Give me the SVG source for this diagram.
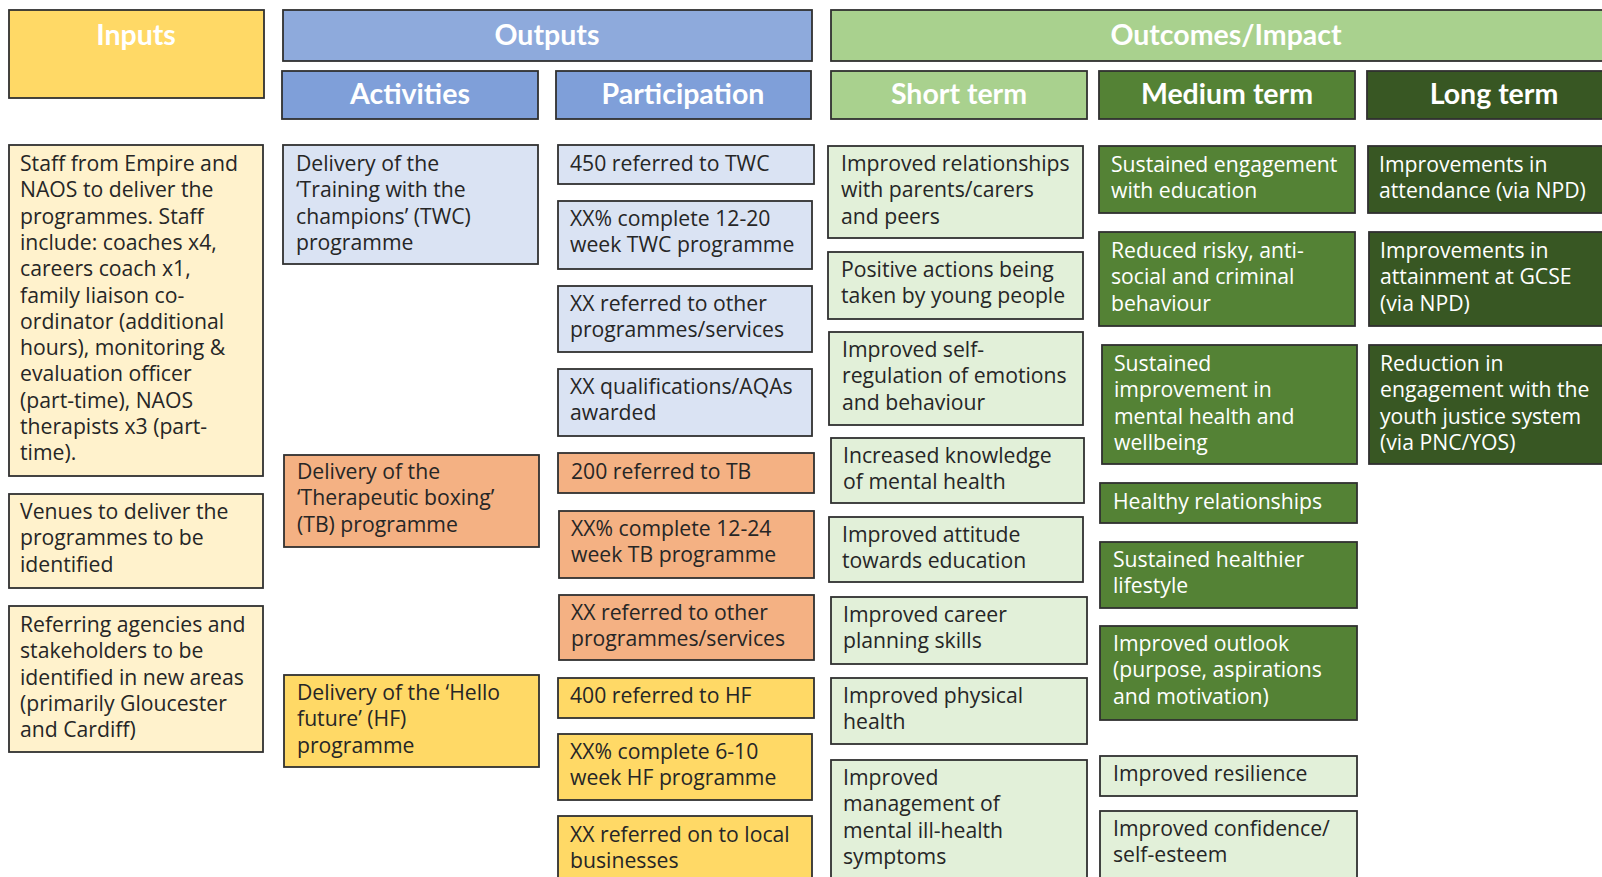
<svg xmlns="http://www.w3.org/2000/svg" width="1602" height="877" viewBox="0 0 1602 877">
<style>
rect{stroke:#303030;stroke-width:1.8}
.h{font-family:Lato,"Open Sans","Liberation Sans",sans-serif;font-weight:bold;font-size:28.5px;fill:#ffffff;text-anchor:middle}
.t{font-family:"Open Sans",Lato,"Liberation Sans",sans-serif;font-size:21.2px;fill:#262626}
.w{font-family:"Open Sans",Lato,"Liberation Sans",sans-serif;font-size:21.2px;fill:#ffffff}
.y1{fill:#FFD966}.y2{fill:#FFF2CC}.b1{fill:#8EAADC}.b2{fill:#7F9FD9}.b3{fill:#DAE3F3}.o{fill:#F4B183}
.g1{fill:#A9D18E}.g2{fill:#E2F0D9}.g3{fill:#548235}.g4{fill:#385723}
</style>
<rect width="1602" height="877" fill="#ffffff" style="stroke:none"/>
<!-- Headers -->
<g id="h-inputs"><rect class="y1" x="9" y="10" width="255" height="88"/><text class="h" x="136" y="45">Inputs</text></g>
<g id="h-outputs"><rect class="b1" x="283" y="10" width="529" height="51"/><text class="h" x="547" y="45">Outputs</text></g>
<g id="h-activities"><rect class="b2" x="282" y="71" width="256" height="48"/><text class="h" x="410" y="104">Activities</text></g>
<g id="h-participation"><rect class="b2" x="556" y="71" width="255" height="48"/><text class="h" x="683" y="104">Participation</text></g>
<g id="h-outcomes"><rect class="g1" x="831" y="10" width="790" height="51"/><text class="h" x="1226" y="45">Outcomes/Impact</text></g>
<g id="h-short"><rect class="g1" x="831" y="71" width="256" height="48"/><text class="h" x="959" y="104">Short term</text></g>
<g id="h-medium"><rect class="g3" x="1099" y="71" width="256" height="48"/><text class="h" x="1227" y="104">Medium term</text></g>
<g id="h-long"><rect class="g4" x="1367" y="71" width="260" height="48"/><text class="h" x="1494" y="104">Long term</text></g>

<!-- Inputs -->
<g id="in-staff"><rect class="y2" x="9" y="145" width="254" height="331"/>
<text class="t" x="20" y="171"><tspan x="20">Staff from Empire and</tspan><tspan x="20" dy="26.3">NAOS to deliver the</tspan><tspan x="20" dy="26.3">programmes. Staff</tspan><tspan x="20" dy="26.3">include: coaches x4,</tspan><tspan x="20" dy="26.3">careers coach x1,</tspan><tspan x="20" dy="26.3">family liaison co-</tspan><tspan x="20" dy="26.3">ordinator (additional</tspan><tspan x="20" dy="26.3">hours), monitoring &amp;</tspan><tspan x="20" dy="26.3">evaluation officer</tspan><tspan x="20" dy="26.3">(part-time), NAOS</tspan><tspan x="20" dy="26.3">therapists x3 (part-</tspan><tspan x="20" dy="26.3">time).</tspan></text></g>
<g id="in-venues"><rect class="y2" x="9" y="494" width="254" height="94"/>
<text class="t" x="20" y="519"><tspan x="20">Venues to deliver the</tspan><tspan x="20" dy="26.3">programmes to be</tspan><tspan x="20" dy="26.3">identified</tspan></text></g>
<g id="in-referring"><rect class="y2" x="9" y="606" width="254" height="146"/>
<text class="t" x="20" y="632"><tspan x="20">Referring agencies and</tspan><tspan x="20" dy="26.3">stakeholders to be</tspan><tspan x="20" dy="26.3">identified in new areas</tspan><tspan x="20" dy="26.3">(primarily Gloucester</tspan><tspan x="20" dy="26.3">and Cardiff)</tspan></text></g>

<!-- Activities -->
<g id="act-twc"><rect class="b3" x="283" y="145" width="255" height="119"/>
<text class="t" x="296" y="171"><tspan x="296">Delivery of the</tspan><tspan x="296" dy="26.3">‘Training with the</tspan><tspan x="296" dy="26.3">champions’ (TWC)</tspan><tspan x="296" dy="26.3">programme</tspan></text></g>
<g id="act-tb"><rect class="o" x="284" y="455" width="255" height="92"/>
<text class="t" x="297" y="479"><tspan x="297">Delivery of the</tspan><tspan x="297" dy="26.3">‘Therapeutic boxing’</tspan><tspan x="297" dy="26.3">(TB) programme</tspan></text></g>
<g id="act-hf"><rect class="y1" x="284" y="675" width="255" height="92"/>
<text class="t" x="297" y="700"><tspan x="297">Delivery of the ‘Hello</tspan><tspan x="297" dy="26.3">future’ (HF)</tspan><tspan x="297" dy="26.3">programme</tspan></text></g>

<!-- Participation -->
<g id="p-twc-ref"><rect class="b3" x="558" y="145" width="256" height="39"/><text class="t" x="570" y="171">450 referred to TWC</text></g>
<g id="p-twc-comp"><rect class="b3" x="558" y="201" width="254" height="68"/><text class="t" x="570" y="226"><tspan x="570">XX% complete 12-20</tspan><tspan x="570" dy="26.3">week TWC programme</tspan></text></g>
<g id="p-twc-other"><rect class="b3" x="558" y="286" width="254" height="66"/><text class="t" x="570" y="311"><tspan x="570">XX referred to other</tspan><tspan x="570" dy="26.3">programmes/services</tspan></text></g>
<g id="p-twc-qual"><rect class="b3" x="558" y="369" width="254" height="67"/><text class="t" x="570" y="394"><tspan x="570">XX qualifications/AQAs</tspan><tspan x="570" dy="26.3">awarded</tspan></text></g>
<g id="p-tb-ref"><rect class="o" x="558" y="453" width="256" height="40"/><text class="t" x="571" y="479">200 referred to TB</text></g>
<g id="p-tb-comp"><rect class="o" x="559" y="511" width="255" height="67"/><text class="t" x="571" y="536"><tspan x="571">XX% complete 12-24</tspan><tspan x="571" dy="26.3">week TB programme</tspan></text></g>
<g id="p-tb-other"><rect class="o" x="559" y="595" width="255" height="65"/><text class="t" x="571" y="620"><tspan x="571">XX referred to other</tspan><tspan x="571" dy="26.3">programmes/services</tspan></text></g>
<g id="p-hf-ref"><rect class="y1" x="558" y="678" width="256" height="40"/><text class="t" x="570" y="703">400 referred to HF</text></g>
<g id="p-hf-comp"><rect class="y1" x="558" y="734" width="254" height="66"/><text class="t" x="570" y="759"><tspan x="570">XX% complete 6-10</tspan><tspan x="570" dy="26.3">week HF programme</tspan></text></g>
<g id="p-hf-local"><rect class="y1" x="558" y="816" width="254" height="75"/><text class="t" x="570" y="842"><tspan x="570">XX referred on to local</tspan><tspan x="570" dy="26.3">businesses</tspan></text></g>

<!-- Short term -->
<g id="s-relationships"><rect class="g2" x="828" y="146" width="255" height="92"/><text class="t" x="841" y="171"><tspan x="841">Improved relationships</tspan><tspan x="841" dy="26.3">with parents/carers</tspan><tspan x="841" dy="26.3">and peers</tspan></text></g>
<g id="s-positive"><rect class="g2" x="828" y="252" width="255" height="67"/><text class="t" x="841" y="277"><tspan x="841">Positive actions being</tspan><tspan x="841" dy="26.3">taken by young people</tspan></text></g>
<g id="s-selfreg"><rect class="g2" x="829" y="332" width="254" height="93"/><text class="t" x="842" y="357"><tspan x="842">Improved self-</tspan><tspan x="842" dy="26.3">regulation of emotions</tspan><tspan x="842" dy="26.3">and behaviour</tspan></text></g>
<g id="s-knowledge"><rect class="g2" x="831" y="438" width="253" height="65"/><text class="t" x="843" y="463"><tspan x="843">Increased knowledge</tspan><tspan x="843" dy="26.3">of mental health</tspan></text></g>
<g id="s-attitude"><rect class="g2" x="829" y="517" width="254" height="65"/><text class="t" x="842" y="542"><tspan x="842">Improved attitude</tspan><tspan x="842" dy="26.3">towards education</tspan></text></g>
<g id="s-career"><rect class="g2" x="831" y="597" width="256" height="67"/><text class="t" x="843" y="622"><tspan x="843">Improved career</tspan><tspan x="843" dy="26.3">planning skills</tspan></text></g>
<g id="s-physical"><rect class="g2" x="831" y="678" width="256" height="66"/><text class="t" x="843" y="703"><tspan x="843">Improved physical</tspan><tspan x="843" dy="26.3">health</tspan></text></g>
<g id="s-management"><rect class="g2" x="831" y="760" width="256" height="130"/><text class="t" x="843" y="785"><tspan x="843">Improved</tspan><tspan x="843" dy="26.3">management of</tspan><tspan x="843" dy="26.3">mental ill-health</tspan><tspan x="843" dy="26.3">symptoms</tspan></text></g>

<!-- Medium term -->
<g id="m-engagement"><rect class="g3" x="1099" y="146" width="256" height="67"/><text class="w" x="1111" y="172"><tspan x="1111">Sustained engagement</tspan><tspan x="1111" dy="26.3">with education</tspan></text></g>
<g id="m-risky"><rect class="g3" x="1099" y="232" width="256" height="94"/><text class="w" x="1111" y="258"><tspan x="1111">Reduced risky, anti-</tspan><tspan x="1111" dy="26.3">social and criminal</tspan><tspan x="1111" dy="26.3">behaviour</tspan></text></g>
<g id="m-mental"><rect class="g3" x="1102" y="345" width="255" height="119"/><text class="w" x="1114" y="371"><tspan x="1114">Sustained</tspan><tspan x="1114" dy="26.3">improvement in</tspan><tspan x="1114" dy="26.3">mental health and</tspan><tspan x="1114" dy="26.3">wellbeing</tspan></text></g>
<g id="m-healthy"><rect class="g3" x="1100" y="483" width="257" height="40"/><text class="w" x="1113" y="509">Healthy relationships</text></g>
<g id="m-lifestyle"><rect class="g3" x="1100" y="542" width="257" height="66"/><text class="w" x="1113" y="567"><tspan x="1113">Sustained healthier</tspan><tspan x="1113" dy="26.3">lifestyle</tspan></text></g>
<g id="m-outlook"><rect class="g3" x="1100" y="626" width="257" height="94"/><text class="w" x="1113" y="651"><tspan x="1113">Improved outlook</tspan><tspan x="1113" dy="26.3">(purpose, aspirations</tspan><tspan x="1113" dy="26.3">and motivation)</tspan></text></g>
<g id="m-resilience"><rect class="g2" x="1100" y="756" width="257" height="40"/><text class="t" x="1113" y="781">Improved resilience</text></g>
<g id="m-confidence"><rect class="g2" x="1100" y="811" width="257" height="80"/><text class="t" x="1113" y="836"><tspan x="1113">Improved confidence/</tspan><tspan x="1113" dy="26.3">self-esteem</tspan></text></g>

<!-- Long term -->
<g id="l-attendance"><rect class="g4" x="1368" y="146" width="260" height="67"/><text class="w" x="1379" y="172"><tspan x="1379">Improvements in</tspan><tspan x="1379" dy="26.3">attendance (via NPD)</tspan></text></g>
<g id="l-attainment"><rect class="g4" x="1369" y="232" width="259" height="94"/><text class="w" x="1380" y="258"><tspan x="1380">Improvements in</tspan><tspan x="1380" dy="26.3">attainment at GCSE</tspan><tspan x="1380" dy="26.3">(via NPD)</tspan></text></g>
<g id="l-justice"><rect class="g4" x="1369" y="345" width="259" height="119"/><text class="w" x="1380" y="371"><tspan x="1380">Reduction in</tspan><tspan x="1380" dy="26.3">engagement with the</tspan><tspan x="1380" dy="26.3">youth justice system</tspan><tspan x="1380" dy="26.3">(via PNC/YOS)</tspan></text></g>
</svg>
